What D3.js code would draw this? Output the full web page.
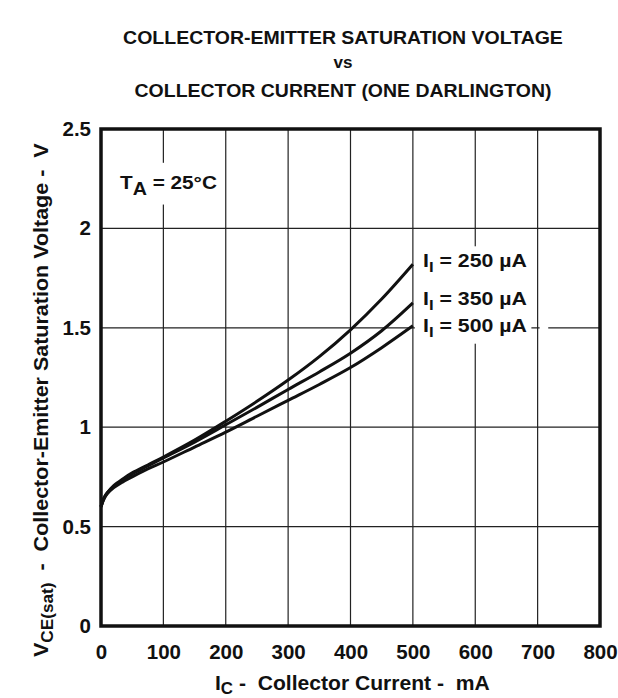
<!DOCTYPE html>
<html>
<head>
<meta charset="utf-8">
<script src="https://cdn.jsdelivr.net/npm/d3@7"></script>
<style>
  html, body { margin: 0; padding: 0; background: #fff; }
  svg { display: block; font-family: "Liberation Sans", Arial, Helvetica, sans-serif; font-weight: bold; }
</style>
</head>
<body>
<div id="chart"></div>
<script>
// ---- data ----
const currents = [0, 5, 10, 20, 35, 50, 75, 100, 150, 200, 250, 300, 350, 400, 450, 500]; // mA
const v250 = [0.60, 0.645, 0.67, 0.705, 0.74, 0.77, 0.81, 0.85, 0.935, 1.03, 1.13, 1.237, 1.355, 1.49, 1.645, 1.82];
const v350 = [0.60, 0.645, 0.67, 0.70, 0.735, 0.765, 0.805, 0.845, 0.925, 1.012, 1.10, 1.19, 1.278, 1.372, 1.485, 1.625];
const v500 = [0.60, 0.64, 0.665, 0.695, 0.725, 0.75, 0.79, 0.825, 0.90, 0.975, 1.055, 1.135, 1.215, 1.30, 1.40, 1.51];
const seriesLabels = ["250", "350", "500"];
const xTicks = [0, 100, 200, 300, 400, 500, 600, 700, 800];
const yTicks = [0, 0.5, 1, 1.5, 2, 2.5];
const titleLines = ["COLLECTOR-EMITTER SATURATION VOLTAGE", "vs", "COLLECTOR CURRENT (ONE DARLINGTON)"];

const W = 618, H = 698;
const svg = d3.select("#chart").append("svg").attr("width", W).attr("height", H);

const x = d3.scaleLinear().domain([0, 800]).range([101, 600]);
const y = d3.scaleLinear().domain([0, 2.5]).range([626, 129]);
const NB = "\u00a0";

// stretch a text horizontally (along its direction) to a target width
function fit(sel, target, pre) {
  const w = sel.node().getComputedTextLength();
  const s = target / w;
  const ax = +sel.attr("x") || 0, ay = +sel.attr("y") || 0;
  sel.attr("transform", (pre || "") + ` translate(${ax},${ay}) scale(${s},1) translate(${-ax},${-ay})`);
}

// title
const titleY = [44, 68, 97];
const titleW = [440, 19, 417];
titleLines.forEach((t, i) => {
  const el = svg.append("text").attr("x", 343).attr("y", titleY[i])
    .attr("text-anchor", "middle").attr("font-size", i === 1 ? 16 : 18)
    .attr("fill", "#111").text(t);
  fit(el, titleW[i]);
});

// gridlines
const grid = svg.append("g").attr("stroke", "#222").attr("stroke-width", 1.2);
grid.selectAll("line.v").data(xTicks.slice(1, -1)).join("line")
  .attr("x1", d => x(d)).attr("x2", d => x(d)).attr("y1", y(0)).attr("y2", y(2.5));
grid.selectAll("line.h").data(yTicks.slice(1, -1)).join("line")
  .attr("x1", x(0)).attr("x2", x(800)).attr("y1", d => y(d)).attr("y2", d => y(d));

// label backgrounds (mask gridlines)
svg.append("rect").attr("x", x(25)).attr("y", y(2.33)).attr("width", x(180) - x(25)).attr("height", y(2.12) - y(2.33)).attr("fill", "#fff");
svg.append("rect").attr("x", x(500) + 2).attr("y", y(1.91)).attr("width", x(690) - x(500) - 2).attr("height", y(1.42) - y(1.91)).attr("fill", "#fff");
svg.append("rect").attr("x", x(700) + 2).attr("y", y(1.5) - 3).attr("width", x(717) - x(700) - 2).attr("height", 6).attr("fill", "#fff");

// axes
const fmt = d => String(d);
const xAxis = svg.append("g").attr("transform", `translate(0,${y(0)})`)
  .call(d3.axisBottom(x).tickValues(xTicks).tickSize(0).tickPadding(18).tickFormat(fmt));
const yAxis = svg.append("g").attr("transform", `translate(${x(0)},0)`)
  .call(d3.axisLeft(y).tickValues(yTicks).tickSize(0).tickPadding(10).tickFormat(fmt));
[xAxis, yAxis].forEach(a => {
  a.select(".domain").remove();
  a.attr("font-family", null).attr("font-size", null);
  a.selectAll("text").attr("font-size", 20.5).attr("fill", "#111");
});

// curves
const line = d3.line().x(d => x(d[0])).y(d => y(d[1])).curve(d3.curveCatmullRom.alpha(0.5));
[v250, v350, v500].forEach(vals => {
  svg.append("path").datum(currents.map((c, i) => [c, vals[i]]))
    .attr("d", line).attr("fill", "none").attr("stroke", "#111").attr("stroke-width", 3);
});

// frame
svg.append("rect").attr("x", x(0)).attr("y", y(2.5)).attr("width", x(800) - x(0)).attr("height", y(0) - y(2.5))
  .attr("fill", "none").attr("stroke", "#111").attr("stroke-width", 3.5);

// T_A label
const ta = svg.append("text").attr("x", 120).attr("y", 189).attr("font-size", 19).attr("fill", "#111");
ta.append("tspan").text("T");
ta.append("tspan").attr("dy", 6).attr("font-size", 18).text("A");
ta.append("tspan").attr("dy", -6).text(" = 25°C");
fit(ta, 97);

// curve labels
const labelY = [267, 305, 332];
seriesLabels.forEach((s, i) => {
  const t = svg.append("text").attr("x", 423).attr("y", labelY[i]).attr("font-size", 19).attr("fill", "#111");
  t.append("tspan").text("I");
  t.append("tspan").attr("dy", 5).attr("font-size", 15).text("I");
  t.append("tspan").attr("dy", -5).text(` = ${s} µA`);
  fit(t, 104);
});

// x axis label
const xl = svg.append("text").attr("x", 215).attr("y", 690).attr("font-size", 20).attr("fill", "#111");
xl.append("tspan").text("I");
xl.append("tspan").attr("dy", 4).attr("font-size", 16).text("C");
xl.append("tspan").attr("dy", -4).text(`${NB}-${NB}${NB}Collector Current -${NB}${NB}mA`);
fit(xl, 275);

// y axis label
const yl = svg.append("text").attr("x", 0).attr("y", 0)
  .attr("font-size", 20).attr("fill", "#111");
yl.append("tspan").text("V");
yl.append("tspan").attr("dy", 5).attr("font-size", 16).text("CE(sat)");
yl.append("tspan").attr("dy", -5).text(`${NB}${NB}-${NB}${NB}Collector-Emitter Saturation Voltage -${NB}${NB}V`);
fit(yl, 514, "translate(48,657) rotate(-90)");
</script>
</body>
</html>
